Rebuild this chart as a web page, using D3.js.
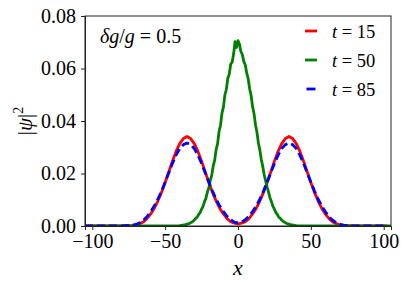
<!DOCTYPE html>
<html>
  <head>
    <meta charset="utf-8">
    <title>psi density</title>
    <style>
      body { margin: 0; background: #fff; }
      .axis path, .axis line { stroke: #222; stroke-width: 1; }
    </style>
    <script src="https://d3js.org/d3.v7.min.js"></script>
  </head>
  <body>
    <svg id="chart" width="407" height="282" font-family="Liberation Serif"></svg>
    <script>
      // x grid for the t = 15 and t = 85 curves (step 2.5)
      var xWide = d3.range(-105, 105.01, 2.5)

      // t = 15 (red)
      var psi15 = [0, 0, 0, 0, 0, 0, 0, 0, 0, 0, 0,
                   0.0001, 0.0001, 0.0002, 0.0004, 0.0009, 0.0015, 0.0028, 0.0045, 0.0067, 0.0095,
                   0.0128, 0.0166, 0.0206, 0.0247, 0.0284, 0.0314, 0.0333, 0.0341, 0.0333, 0.0314,
                   0.0284, 0.0247, 0.0206, 0.0166, 0.0128, 0.0095, 0.0067, 0.0046, 0.0028, 0.0016,
                   0.0011, 0.0008,
                   0.0011, 0.0016, 0.0028, 0.0046, 0.0067, 0.0095, 0.0128, 0.0166, 0.0206, 0.0247,
                   0.0284, 0.0314, 0.0333, 0.0341, 0.0333, 0.0314, 0.0284, 0.0247, 0.0206, 0.0166,
                   0.0128, 0.0095, 0.0067, 0.0045, 0.0028, 0.0015, 0.0009, 0.0004, 0.0002, 0.0001,
                   0.0001, 0, 0, 0, 0, 0, 0, 0, 0, 0, 0]

      // t = 85 (blue, dashed)
      var psi85 = [0, 0, 0, 0, 0, 0, 0, 0, 0, 0, 0,
                   0.0001, 0.0002, 0.0003, 0.0006, 0.0012, 0.0022, 0.0035, 0.0054, 0.0076, 0.0102,
                   0.0133, 0.0167, 0.0203, 0.0238, 0.0270, 0.0295, 0.0310, 0.0316, 0.0310, 0.0295,
                   0.0270, 0.0238, 0.0203, 0.0167, 0.0133, 0.0102, 0.0076, 0.0055, 0.0037, 0.0024,
                   0.0015, 0.0012,
                   0.0015, 0.0024, 0.0037, 0.0055, 0.0076, 0.0102, 0.0133, 0.0167, 0.0203, 0.0238,
                   0.0270, 0.0295, 0.0310, 0.0316, 0.0310, 0.0295, 0.0270, 0.0238, 0.0203, 0.0167,
                   0.0133, 0.0102, 0.0076, 0.0054, 0.0035, 0.0022, 0.0012, 0.0006, 0.0003, 0.0002,
                   0.0001, 0, 0, 0, 0, 0, 0, 0, 0, 0, 0]

      // t = 50 (green), finer grid near the centre because of the jitter
      var xNarrow = [-105, -45].concat(d3.range(-40, 40.01, 1), [45, 105])
      var psi50 = [0, 0,
                   0.0001, 0.0002, 0.0003, 0.0004, 0.0005, 0.0007, 0.0008, 0.0011, 0.0014, 0.0018,
                   0.0022, 0.0029, 0.0034, 0.0044, 0.0051, 0.0064, 0.0075, 0.0093, 0.0106, 0.0129,
                   0.0146, 0.0174, 0.0194, 0.0229, 0.0251, 0.0291, 0.0314, 0.0360, 0.0384, 0.0430,
                   0.0453, 0.0499, 0.0520, 0.0563, 0.0578, 0.0617, 0.0624, 0.0656, 0.0702, 0.0680,
                   0.0706,
                   0.0693, 0.0664, 0.0653, 0.0626, 0.0614, 0.0582, 0.0561, 0.0522, 0.0497, 0.0455,
                   0.0428, 0.0386, 0.0357, 0.0316, 0.0289, 0.0253, 0.0227, 0.0195, 0.0172, 0.0147,
                   0.0128, 0.0107, 0.0092, 0.0075, 0.0064, 0.0051, 0.0044, 0.0034, 0.0029, 0.0022,
                   0.0018, 0.0014, 0.0011, 0.0008, 0.0007, 0.0005, 0.0004, 0.0003, 0.0002, 0.0001,
                   0, 0]

      var xTicks = [-100, -50, 0, 50, 100]
      var yTicks = [0, 0.02, 0.04, 0.06, 0.08]
      var legendLabels = ["15", "50", "85"]

      var series = [
        {x: xWide, y: psi15, color: "#ff0000", dash: null},
        {x: xNarrow, y: psi50, color: "#008000", dash: null},
        {x: xWide, y: psi85, color: "#0000ff", dash: "8,4"}
      ]

      var svg = d3.select("#chart")
      var margin = {top: 16, right: 16, bottom: 56, left: 85}
      var width = 407 - margin.left - margin.right
      var height = 282 - margin.top - margin.bottom

      var x = d3.scaleLinear().domain([-105, 105]).range([0, width])
      var y = d3.scaleLinear().domain([0, 0.08]).range([height, 0])

      var g = svg.append("g")
                 .attr("transform", "translate(" + margin.left + "," + margin.top + ")")

      g.append("clipPath").attr("id", "clip")
       .append("rect").attr("width", width).attr("height", height)

      var line = d3.line()
                   .x(d => x(d[0]))
                   .y(d => y(d[1]))

      var plot = g.append("g").attr("clip-path", "url(#clip)")
      series.forEach(function(s){
        plot.append("path")
            .datum(s.x.map((v, i) => [v, s.y[i]]))
            .attr("fill", "none")
            .attr("stroke", s.color)
            .attr("stroke-width", 2.8)
            .attr("stroke-linejoin", "round")
            .attr("stroke-dasharray", s.dash)
            .attr("d", line)
      })

      // axes (d3 puts sans-serif on the axis group, so reset it)
      g.append("g")
       .attr("class", "axis")
       .attr("transform", "translate(0," + height + ")")
       .call(d3.axisBottom(x).tickValues(xTicks).tickSize(4).tickPadding(4)
               .tickFormat(d => d < 0 ? "\u2212" + Math.abs(d) : d))
       .attr("font-family", "Liberation Serif")
       .attr("font-size", 20)

      g.append("g")
       .attr("class", "axis")
       .call(d3.axisLeft(y).tickValues(yTicks).tickSize(4).tickPadding(5)
               .tickFormat(d3.format(".2f")))
       .attr("font-family", "Liberation Serif")
       .attr("font-size", 20)

      g.selectAll(".axis text").attr("fill", "#000")

      // top and right spines
      g.append("rect")
       .attr("width", width).attr("height", height)
       .attr("fill", "none").attr("stroke", "#222").attr("stroke-width", 1)

      // axis labels
      g.append("text")
       .attr("x", x(0)).attr("y", height + 49)
       .attr("text-anchor", "middle")
       .attr("font-size", 22).attr("font-style", "italic")
       .text("x")

      var yl = svg.append("text")
                  .attr("transform", "translate(32," + (margin.top + height / 2) + ") rotate(-90)")
                  .attr("text-anchor", "middle")
                  .attr("font-size", 21)
      yl.append("tspan").text("|")
      yl.append("tspan").attr("font-style", "italic").text("\u03c8")
      yl.append("tspan").text("|")
      yl.append("tspan").attr("dy", -9).attr("font-size", 14).text("2")

      // annotation
      var ann = g.append("text")
                 .attr("x", 15).attr("y", 27)
                 .attr("font-size", 20)
      ann.append("tspan").attr("font-style", "italic").text("\u03b4g")
      ann.append("tspan").text("/")
      ann.append("tspan").attr("font-style", "italic").text("g")
      ann.append("tspan").text(" = 0.5")

      // legend
      var leg = g.append("g").attr("transform", "translate(" + (width - 86) + ",15)")
      series.forEach(function(s, i){
        var row = leg.append("g").attr("transform", "translate(0," + (i * 29) + ")")
        row.append("line")
           .attr("x1", 0).attr("x2", s.dash ? 9 : 12)
           .attr("transform", s.dash ? "translate(1.5,0)" : null)
           .attr("stroke", s.color).attr("stroke-width", 2.8)
        var t = row.append("text").attr("x", 27).attr("y", 6.5).attr("font-size", 18.5)
        t.append("tspan").attr("font-style", "italic").text("t")
        t.append("tspan").text(" = " + legendLabels[i])
      })
    </script>
  </body>
</html>
